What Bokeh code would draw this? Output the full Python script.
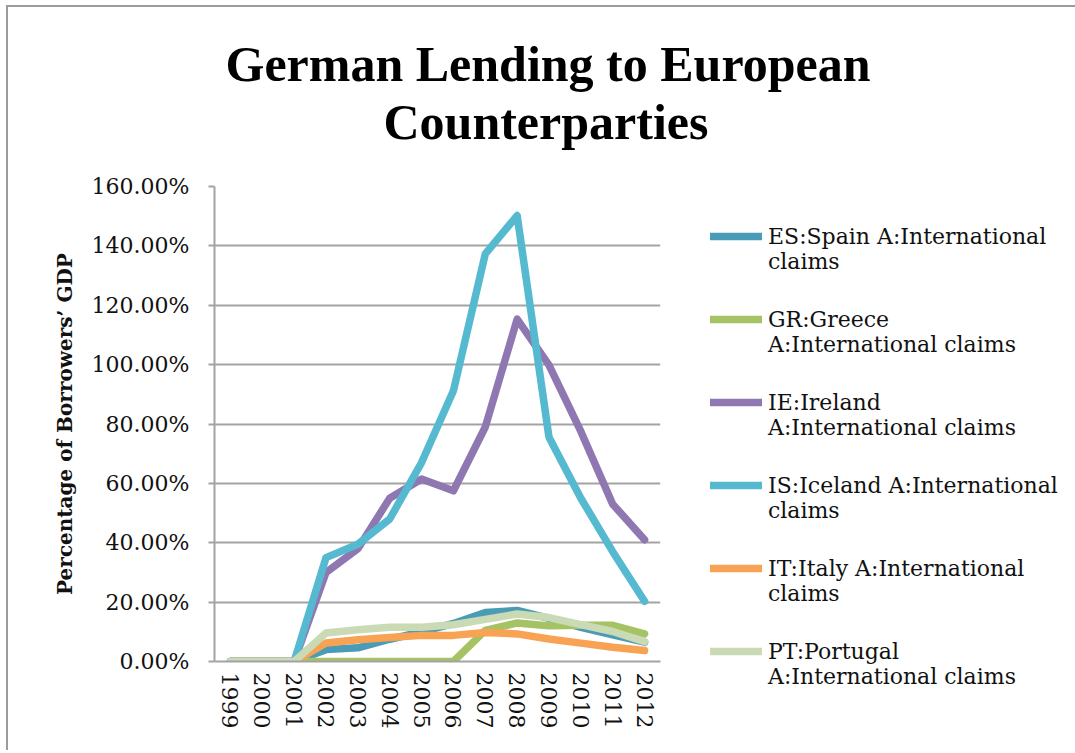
from bokeh.plotting import figure
from bokeh.models import (Range1d, FixedTicker, NumeralTickFormatter, Legend,
                          LegendItem, Title)
from bokeh.embed import file_html
from bokeh.resources import INLINE

# ---------------- data ----------------
years = ["1999", "2000", "2001", "2002", "2003", "2004", "2005",
         "2006", "2007", "2008", "2009", "2010", "2011", "2012"]
spain    = [0, 0, 0, 4.0, 4.6, 7.5, 10.0, 12.8, 16.5, 17.2, 14.5, 11.5, 9.0, 6.5]
greece   = [0, 0, 0, 0, 0, 0, 0, 0, 10.5, 13.0, 12.0, 12.2, 12.2, 9.3]
ireland  = [0, 0, 0, 30.0, 38.0, 55.0, 61.5, 57.5, 79.0, 115.3, 99.8, 77.5, 53.0, 41.0]
iceland  = [0, 0, 0, 35.0, 39.5, 48.0, 67.0, 91.2, 137.3, 150.2, 75.5, 55.0, 37.0, 20.3]
italy    = [0, 0, 0, 6.2, 7.3, 8.1, 8.8, 8.8, 9.8, 9.3, 7.6, 6.2, 4.8, 3.7]
portugal = [0, 0, 0, 9.6, 10.7, 11.5, 11.5, 12.4, 14.2, 16.0, 14.8, 12.4, 10.1, 6.7]

series_values = [spain, greece, ireland, iceland, italy, portugal]
series_line1 = ["ES:Spain A:International", "GR:Greece", "IE:Ireland",
                "IS:Iceland A:International", "IT:Italy A:International", "PT:Portugal"]
series_line2 = ["claims", "A:International claims", "A:International claims",
                "claims", "claims", "A:International claims"]
series_colors = ["#4A9CB6", "#A5C264", "#8F78B2", "#55B9D0", "#F8A254", "#CADAB4"]

y_ticks = [0.0, 0.2, 0.4, 0.6, 0.8, 1.0, 1.2, 1.4, 1.6]
title_lines = ["German Lending to European", "Counterparties"]
y_label = "Percentage of Borrowers\u2019 GDP"

# ---------------- figure ----------------
p = figure(x_range=years, y_range=Range1d(0, 1.6),
           frame_width=446, frame_height=475,
           output_backend="svg", toolbar_location=None,
           min_border_left=206, min_border_right=0,
           min_border_top=179, min_border_bottom=89)
p.styles = {"margin-left": "6px", "margin-top": "5px",
            "border-left": "2px solid #9c9c9c", "border-top": "2px solid #9c9c9c"}
p.outline_line_color = None
p.background_fill_color = "white"
p.border_fill_color = "white"

p.xgrid.visible = False
p.ygrid.grid_line_color = "#a3a3a3"
p.ygrid.grid_line_width = 2

grey = "#a3a3a3"
serif = "DejaVu Serif"

p.yaxis.ticker = FixedTicker(ticks=y_ticks)
p.yaxis.formatter = NumeralTickFormatter(format="0.00%")
p.yaxis.axis_line_color = grey
p.yaxis.axis_line_width = 2
p.yaxis.major_tick_line_color = grey
p.yaxis.major_tick_line_width = 2
p.yaxis.major_tick_out = 6
p.yaxis.major_tick_in = 0
p.yaxis.minor_tick_line_color = None
p.yaxis.major_label_text_font = serif
p.yaxis.major_label_text_font_size = "22px"
p.yaxis.major_label_text_color = "#111111"
p.yaxis.major_label_standoff = 19
p.yaxis.axis_label = y_label
p.yaxis.axis_label_text_font = serif
p.yaxis.axis_label_text_font_style = "bold"
p.yaxis.axis_label_text_font_size = "20px"
p.yaxis.axis_label_text_color = "#111111"
p.yaxis.axis_label_standoff = 12

p.xaxis.axis_line_color = grey
p.xaxis.axis_line_width = 2
p.xaxis.major_tick_out = 0
p.xaxis.major_tick_in = 0
p.xaxis.minor_tick_line_color = None
p.xaxis.major_label_orientation = "vertical"
p.xaxis.major_label_text_font = serif
p.xaxis.major_label_text_font_size = "22px"
p.xaxis.major_label_text_color = "#111111"
p.xaxis.major_label_standoff = 11

renderers = []
for vals, col in zip(series_values, series_colors):
    r = p.line(x=years, y=[v / 100.0 for v in vals], line_color=col,
               line_width=7.5, line_cap="round", line_join="round")
    renderers.append(r)

# ---------------- legend ----------------
# a leading empty line keeps the swatch level with the first text line
items = [LegendItem(label="\n" + l1 + "\n" + l2, renderers=[r])
         for l1, l2, r in zip(series_line1, series_line2, renderers)]
legend = Legend(items=items, location=(50, -28), orientation="vertical",
                glyph_width=52, glyph_height=76, label_height=76,
                label_standoff=6, spacing=7, padding=0, margin=0,
                border_line_color=None, background_fill_alpha=0,
                label_text_font=serif, label_text_font_size="22px",
                label_text_color="#111111", label_text_baseline="middle")
p.add_layout(legend, "right")

# ---------------- title (two stacked lines) ----------------
p.add_layout(Title(text=title_lines[1], align="left", offset=169, standoff=74,
                   text_font="Liberation Serif", text_font_style="bold",
                   text_font_size="50px", text_color="#000000"), "above")
p.add_layout(Title(text=title_lines[0], align="left", offset=11, standoff=-74,
                   text_font="Liberation Serif", text_font_style="bold",
                   text_font_size="50px", text_color="#000000"), "above")

open("out.html", "w").write(file_html(p, INLINE))
